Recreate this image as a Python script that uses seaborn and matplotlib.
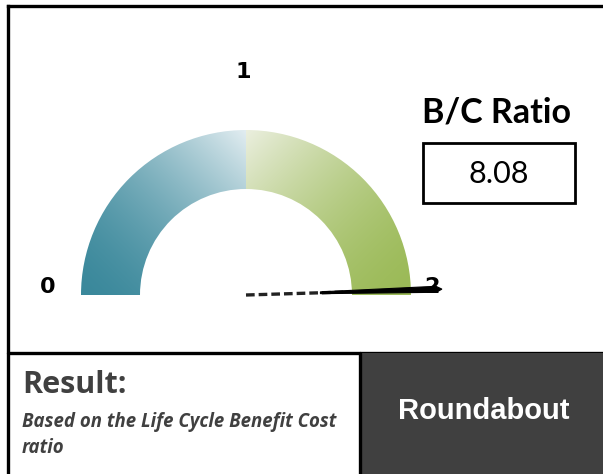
import numpy as np
import matplotlib
matplotlib.use("Agg")
import matplotlib.pyplot as plt
from matplotlib.patches import Wedge, Rectangle, Polygon
from matplotlib.colors import to_rgb
import seaborn as sns

# gauge scale and reading
scale_ticks = [0, 1, 2]
scale_min, scale_max = 0, 2
bc_ratio = 8.08
ratio_title = "B/C Ratio"
result_title = "Result:"
result_note = "Based on the Life Cycle Benefit Cost\nratio"
result_value = "Roundabout"

# band colours (outer end, inner/top end)
teal_dark, teal_light = "#3a889b", "#e2edf1"
green_dark, green_light = "#9bba57", "#ebefdf"
panel_dark = "#404040"

sns.set_theme(style="white")

W, H = 603, 474
fig = plt.figure(figsize=(W / 100, H / 100), dpi=100)
ax = fig.add_axes([0, 0, 1, 1])
ax.set_xlim(0, W)
ax.set_ylim(0, H)
ax.set_axis_off()

cx, cy = 246, 179
r_out, r_in = 165, 106


def band_image(c0, c1, mirror):
    n = 300
    xs = np.linspace(0, 1, n)
    ys = np.linspace(0, 1, n)
    X, Y = np.meshgrid(xs, ys)
    if mirror:
        X = 1 - X
    t = np.clip((X + Y) / 2, 0, 1)[..., None]
    a, b = np.array(to_rgb(c0)), np.array(to_rgb(c1))
    return a + (b - a) * t ** 1.6


# left half: teal, right half: green, each a diagonal gradient
left = ax.imshow(band_image(teal_dark, teal_light, False), origin="lower",
                 extent=(cx - r_out, cx, cy, cy + r_out), zorder=1,
                 interpolation="bilinear")
left.set_clip_path(Wedge((cx, cy), r_out, 90, 180, width=r_out - r_in,
                         transform=ax.transData))
right = ax.imshow(band_image(green_dark, green_light, True), origin="lower",
                  extent=(cx, cx + r_out, cy, cy + r_out), zorder=1,
                  interpolation="bilinear")
right.set_clip_path(Wedge((cx, cy), r_out, 0, 90, width=r_out - r_in,
                          transform=ax.transData))
ax.set_aspect("equal")
ax.set_xlim(0, W)
ax.set_ylim(0, H)

# scale labels around the arc
for v in scale_ticks:
    ang = np.pi * (1 - (v - scale_min) / (scale_max - scale_min))
    if v == 1:
        x, y = cx - 3, cy + 223
    else:
        rr = 198 if v == 0 else 186
        x, y = cx + rr * np.cos(ang), cy + rr * np.sin(ang) + 8
    ax.text(x, y, str(v), ha="center", va="center", fontsize=16,
            fontweight="bold", family=["DejaVu Sans"],
            color="black", zorder=3)

# needle, clamped to the end of the scale
shown = min(max(bc_ratio, scale_min), scale_max)
ang = np.pi * (1 - (shown - scale_min) / (scale_max - scale_min)) + 0.03
L = 196
ux, uy = np.cos(ang), np.sin(ang)
px, py = -uy, ux
seg = np.linspace(0.0, 0.5, 2)
sns.lineplot(x=cx + seg * L * ux, y=cy + seg * L * uy, ax=ax, color="#222222",
             linewidth=2.4, linestyle=(0, (2.6, 1.2)), zorder=4)
s0, s1 = 0.38, 0.97
w0, w1 = 0.9, 3.0
needle = Polygon([
    (cx + s0 * L * ux + w0 * px, cy + s0 * L * uy + w0 * py),
    (cx + s1 * L * ux + w1 * px, cy + s1 * L * uy + w1 * py),
    (cx + L * ux, cy + L * uy),
    (cx + s1 * L * ux - w1 * px, cy + s1 * L * uy - w1 * py),
    (cx + s0 * L * ux - w0 * px, cy + s0 * L * uy - w0 * py),
], closed=True, facecolor="black", edgecolor="black", linewidth=0.8, zorder=5)
ax.add_patch(needle)

# ratio readout
ax.text(497, H - 112, ratio_title, ha="center", va="center", fontsize=24.5,
        fontweight="bold", family=["Lato", "DejaVu Sans"], color="black")
ax.add_patch(Rectangle((423, H - 203), 152, 60, fill=False, edgecolor="black",
                       linewidth=2.0, zorder=3))
ax.text(499, H - 174, f"{bc_ratio:.2f}", ha="center", va="center", fontsize=22,
        family=["Lato", "DejaVu Sans"], color="black")

# frame and result panel
lw = 2.4
ax.plot([8, 8], [0, H - 6], color="black", linewidth=lw, solid_capstyle="projecting")
ax.plot([8, W], [H - 6, H - 6], color="black", linewidth=lw, solid_capstyle="projecting")
ax.plot([8, W], [H - 353, H - 353], color="black", linewidth=lw)
ax.add_patch(Rectangle((360, 0), W - 360, H - 353, facecolor=panel_dark,
                       edgecolor="none", zorder=2))
ax.plot([360, 360], [0, H - 353], color="black", linewidth=lw, zorder=3)

ax.text(22, H - 385, result_title, ha="left", va="center", fontsize=22,
        fontweight="bold", family=["Open Sans", "DejaVu Sans"], color="#404040")
ax.text(22, H - 435, result_note, ha="left", va="center", fontsize=13.4,
        fontweight="bold", fontstyle="italic", linespacing=1.4,
        family=["Open Sans", "DejaVu Sans"], color="#404040")
ax.text(484, H - 411, result_value, ha="center", va="center", fontsize=21,
        fontweight="bold", family=["Liberation Sans", "DejaVu Sans"],
        color="white", zorder=4)

fig.savefig("out.png", dpi=100)
